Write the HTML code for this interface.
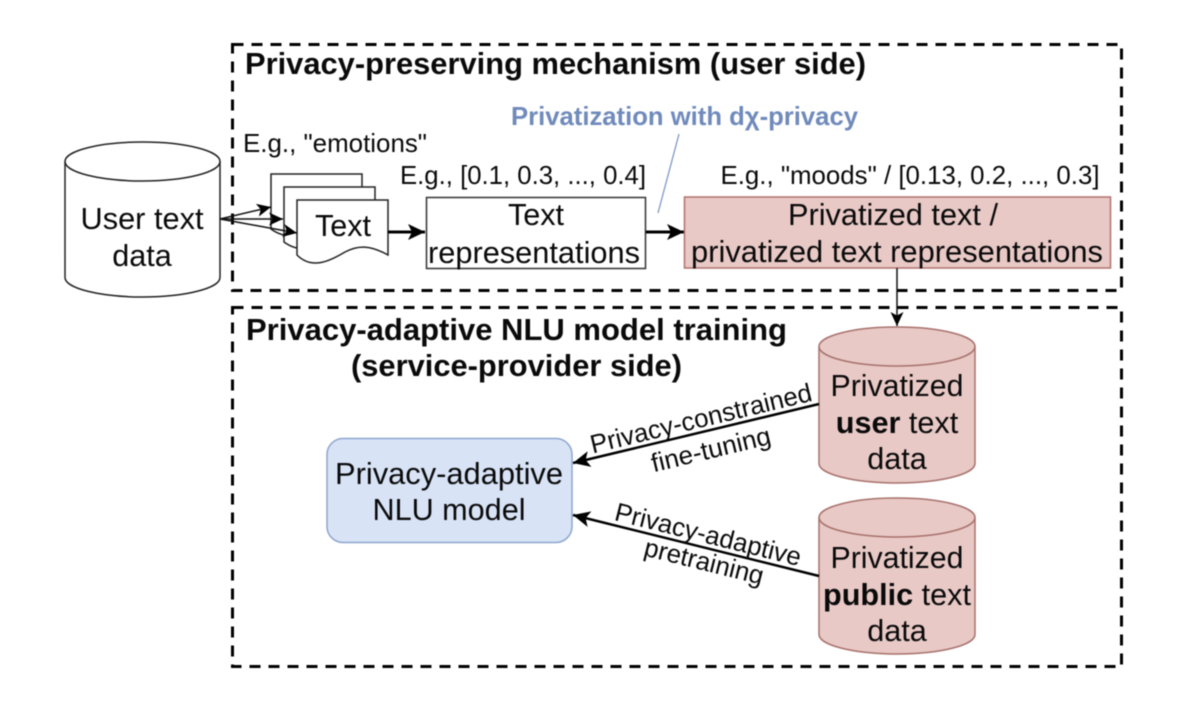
<!DOCTYPE html>
<html><head><meta charset="utf-8"><style>
html,body{margin:0;padding:0;background:#fff;width:1186px;height:712px;overflow:hidden}
svg{display:block;filter:blur(0.5px)}
text{font-family:"Liberation Sans",sans-serif;fill:#0a0a0a;text-anchor:middle}
.b{font-weight:bold;text-anchor:start}
.l{font-size:30.6px}
.s{font-size:26px}
</style></head><body>
<svg width="1186" height="712" viewBox="0 0 1186 712" xmlns="http://www.w3.org/2000/svg">
<defs>
<marker id="a" markerUnits="userSpaceOnUse" markerWidth="24" markerHeight="20" refX="17" refY="8" orient="auto"><path d="M0 0L17 8L0 16L4 8Z" fill="#000"/></marker>
<marker id="sm" markerUnits="userSpaceOnUse" markerWidth="20" markerHeight="16" refX="14" refY="6.5" orient="auto"><path d="M0 0L14 6.5L0 13L3.5 6.5Z" fill="#000"/></marker>
</defs>
<rect width="1186" height="712" fill="#fff"/>
<g fill="none" stroke="#000" stroke-width="3" stroke-dasharray="11 8">
<rect x="232.500" y="44.500" width="889" height="246"/>
<rect x="232.500" y="307.500" width="889" height="359"/>
</g>
<path d="M65 161.500A77.500 19.500 0 0 1 220 161.500V277.500A77.500 19.500 0 0 1 65 277.500Z" fill="#fff" stroke="#222" stroke-width="1.500"/>
<path d="M65 161.500A77.500 19.500 0 0 0 220 161.500" fill="none" stroke="#222" stroke-width="1.500"/>
<g fill="#fff" stroke="#222" stroke-width="1.500">
<path d="M271 174H362V229C344 220 332 222 319 229C304 237 286 240 271 229Z"/>
<path d="M284 187H375V242C357 233 345 235 332 242C317 250 299 253 284 242Z"/>
<path d="M297 200H388V255C370 245 358 245 345 252C330 261 312 270 297 255Z"/>
</g>
<g fill="none" stroke="#111" stroke-width="1.500">
<line x1="220" y1="219" x2="271" y2="207" marker-end="url(#sm)"/>
<line x1="220" y1="219" x2="283" y2="219" marker-end="url(#sm)"/>
<line x1="220" y1="219" x2="297" y2="233" marker-end="url(#sm)"/>
</g>
<line x1="388" y1="232" x2="425" y2="232" stroke="#000" stroke-width="3" marker-end="url(#a)"/>
<rect x="426.500" y="197.500" width="219" height="71" fill="#fff" stroke="#333" stroke-width="1.500"/>
<line x1="646" y1="232" x2="684" y2="232" stroke="#000" stroke-width="3" marker-end="url(#a)"/>
<rect x="684.500" y="197" width="426" height="71" fill="#e8c9c6" stroke="#b0716c" stroke-width="1.500"/>
<line x1="679" y1="134" x2="658" y2="213" stroke="#7f97c6" stroke-width="1.300"/>
<line x1="897" y1="268" x2="897" y2="326" stroke="#111" stroke-width="1.500" marker-end="url(#sm)"/>
<path d="M819 346.500A78 19.500 0 0 1 975 346.500V463.500A78 19.500 0 0 1 819 463.500Z" fill="#e8c9c6" stroke="#a8716c" stroke-width="1.500"/>
<path d="M819 346.500A78 19.500 0 0 0 975 346.500" fill="none" stroke="#a8716c" stroke-width="1.500"/>
<path d="M819 517.500A78 19.500 0 0 1 975 517.500V634.500A78 19.500 0 0 1 819 634.500Z" fill="#e8c9c6" stroke="#a8716c" stroke-width="1.500"/>
<path d="M819 517.500A78 19.500 0 0 0 975 517.500" fill="none" stroke="#a8716c" stroke-width="1.500"/>
<rect x="327" y="438.500" width="245" height="104" rx="16" fill="#d8e3f6" stroke="#8ea6cf" stroke-width="1.500"/>
<line x1="819" y1="404" x2="573" y2="463" stroke="#000" stroke-width="2.500" marker-end="url(#a)"/>
<line x1="819" y1="576" x2="573" y2="515" stroke="#000" stroke-width="2.500" marker-end="url(#a)"/>

<text class="b" x="245" y="74" font-size="30.8" textLength="621" lengthAdjust="spacingAndGlyphs">Privacy-preserving mechanism (user side)</text>
<text class="b" x="511" y="125" font-size="25.8" style="fill:#6f8abb" textLength="347" lengthAdjust="spacingAndGlyphs">Privatization with dχ-privacy</text>
<text class="b" x="246" y="340" font-size="30.8" textLength="541" lengthAdjust="spacingAndGlyphs">Privacy-adaptive NLU model training</text>
<text class="b" x="351" y="376" font-size="30.8" textLength="331" lengthAdjust="spacingAndGlyphs">(service-provider side)</text>

<text class="s" x="335" y="152" textLength="184" lengthAdjust="spacingAndGlyphs">E.g., "emotions"</text>
<text class="s" x="523" y="184" textLength="246" lengthAdjust="spacingAndGlyphs">E.g., [0.1, 0.3, ..., 0.4]</text>
<text class="s" x="910" y="184" textLength="379" lengthAdjust="spacingAndGlyphs">E.g., "moods" / [0.13, 0.2, ..., 0.3]</text>

<text class="l" x="142" y="229" textLength="123" lengthAdjust="spacingAndGlyphs">User text</text>
<text class="l" x="142" y="266">data</text>
<text class="l" x="343" y="236">Text</text>
<text class="l" x="536" y="225">Text</text>
<text class="l" x="534" y="263" textLength="212" lengthAdjust="spacingAndGlyphs">representations</text>
<text class="l" x="893" y="225" textLength="210" lengthAdjust="spacingAndGlyphs">Privatized text /</text>
<text class="l" x="897" y="262" textLength="412" lengthAdjust="spacingAndGlyphs">privatized text representations</text>
<text class="l" x="897" y="396" textLength="133" lengthAdjust="spacingAndGlyphs">Privatized</text>
<text class="l" x="897" y="433"><tspan font-weight="bold">user</tspan> text</text>
<text class="l" x="897" y="469">data</text>
<text class="l" x="897" y="568" textLength="133" lengthAdjust="spacingAndGlyphs">Privatized</text>
<text class="l" x="897" y="605"><tspan font-weight="bold">public</tspan> text</text>
<text class="l" x="897" y="641">data</text>
<text class="l" x="449" y="484" textLength="228" lengthAdjust="spacingAndGlyphs">Privacy-adaptive</text>
<text class="l" x="449" y="520">NLU model</text>

<text class="s" transform="translate(703 427) rotate(-13.500)" textLength="227" lengthAdjust="spacingAndGlyphs">Privacy-constrained</text>
<text class="s" transform="translate(713 458) rotate(-13.500)" textLength="122" lengthAdjust="spacingAndGlyphs">fine-tuning</text>
<text class="s" transform="translate(706 543) rotate(14)" textLength="191" lengthAdjust="spacingAndGlyphs">Privacy-adaptive</text>
<text class="s" transform="translate(702 570) rotate(14)" textLength="122" lengthAdjust="spacingAndGlyphs">pretraining</text>
</svg>
</body></html>
